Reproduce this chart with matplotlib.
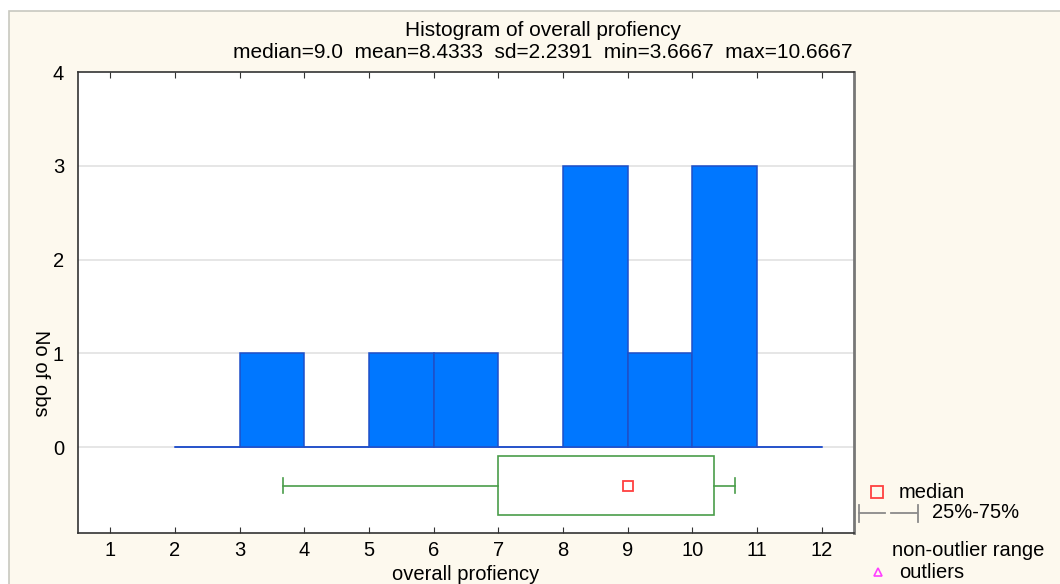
import matplotlib
matplotlib.use("Agg")
import matplotlib.pyplot as plt
from matplotlib.patches import Rectangle
from matplotlib.lines import Line2D
import numpy as np

# histogram data
bin_edges = [2, 3, 4, 5, 6, 7, 8, 9, 10, 11, 12]
counts = [0, 1, 0, 1, 1, 0, 3, 1, 3, 0]

# box plot summary
box_min = 3.6667
box_q1 = 7.0
box_median = 9.0
box_q3 = 10.3333
box_max = 10.6667

title = "Histogram of overall profiency"
subtitle = "median=9.0  mean=8.4333  sd=2.2391  min=3.6667  max=10.6667"
x_ticks = list(range(1, 13))
y_ticks = [0, 1, 2, 3, 4]

plt.rcParams["font.family"] = ["Liberation Sans", "DejaVu Sans"]
cream = "#fdf9ee"
fs = 14.5
fs_title = 15

fig = plt.figure(figsize=(10.6, 5.84), dpi=100)
fig.patch.set_facecolor("white")
fig.patches.append(Rectangle((9 / 1060, -0.1), 1.2, 1 - 11 / 584 + 0.1,
                             transform=fig.transFigure, facecolor=cream,
                             edgecolor="#c8c8c0", linewidth=1.2, zorder=-10))

ax = fig.add_axes([78 / 1060, 1 - 533 / 584, 776 / 1060, 461 / 584])
ax.set_facecolor("white")

for y in [0, 1, 2, 3]:
    ax.axhline(y, color="#e2e2e2", linewidth=1.2, zorder=0)

# histogram bars
lefts = bin_edges[:-1]
ax.bar(lefts, counts, width=1, align="edge", color="#0077ff",
       edgecolor="#1f4fc8", linewidth=1.1, zorder=2)
ax.plot([bin_edges[0], bin_edges[-1]], [0, 0], color="#3f63d8", linewidth=1.3, zorder=1)

# box plot under the histogram
by = -0.415
bh = 0.63
green = "#4a9d4a"
ax.add_patch(Rectangle((box_q1, by - bh / 2), box_q3 - box_q1, bh,
                       facecolor="none", edgecolor=green, linewidth=1.2, zorder=3))
ax.plot([box_min, box_q1], [by, by], color=green, linewidth=1.2)
ax.plot([box_q3, box_max], [by, by], color=green, linewidth=1.2)
ax.plot([box_min, box_min], [by - 0.08, by + 0.08], color=green, linewidth=1.2)
ax.plot([box_max, box_max], [by - 0.08, by + 0.08], color=green, linewidth=1.2)
ax.plot([box_median], [by], marker="s", markersize=7.5, markerfacecolor="none",
        markeredgecolor="#ff4040", markeredgewidth=1.3, zorder=4)

ax.set_xlim(0.5, 12.5)
ax.set_ylim(-0.917, 4)
ax.set_xticks(x_ticks)
ax.set_yticks(y_ticks)
ax.tick_params(axis="both", direction="in", labelsize=fs, length=4,
               color="#333333", top=True, pad=6)
ax.tick_params(axis="y", length=0, pad=10)
for s in ["left", "bottom", "top"]:
    ax.spines[s].set_color("#333333")
    ax.spines[s].set_linewidth(1.2)
ax.spines["right"].set_color("#777777")
ax.spines["right"].set_linewidth(2.0)

ax.set_xlabel("overall profiency", fontsize=fs, labelpad=3)
fig.text(40 / 1060, 1 - 373 / 584, "No of obs", rotation=270, fontsize=fs,
         ha="center", va="center")

fig.text(543 / 1060, 1 - 30 / 584, title, fontsize=fs_title, ha="center", va="center")
fig.text(543 / 1060, 1 - 52 / 584, subtitle, fontsize=fs_title, ha="center", va="center")

# legend outside to the right
def fx(px):
    return px / 1060

def fy(py):
    return 1 - py / 584

fig.add_artist(Line2D([fx(877)], [fy(492)], marker="s", markersize=8,
                      markerfacecolor="none", markeredgecolor="#ff4040",
                      markeredgewidth=1.3, transform=fig.transFigure))
fig.text(fx(899), fy(492), "median", fontsize=fs, va="center")
gray = "#8a8a8a"
fig.add_artist(Line2D([fx(859), fx(885)], [fy(513), fy(513)], color=gray, lw=1.3, transform=fig.transFigure))
fig.add_artist(Line2D([fx(891), fx(917)], [fy(513), fy(513)], color=gray, lw=1.3, transform=fig.transFigure))
fig.add_artist(Line2D([fx(859), fx(859)], [fy(505), fy(522)], color=gray, lw=1.3, transform=fig.transFigure))
fig.add_artist(Line2D([fx(918), fx(918)], [fy(505), fy(522)], color=gray, lw=1.3, transform=fig.transFigure))
fig.text(fx(932), fy(513), "25%-75%", fontsize=fs, va="center")
fig.text(fx(892), fy(550), "non-outlier range", fontsize=fs, va="center")
fig.add_artist(Line2D([fx(878)], [fy(572)], marker="^", markersize=6,
                      markerfacecolor="none", markeredgecolor="#ff40ff",
                      markeredgewidth=1.2, transform=fig.transFigure))
fig.text(fx(899), fy(572), "outliers", fontsize=fs, va="center")

fig.savefig("out.png", dpi=100)
